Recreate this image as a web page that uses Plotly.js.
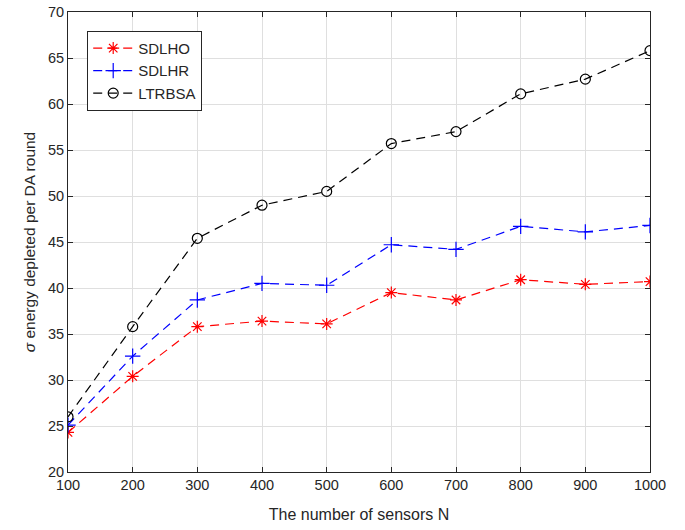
<!DOCTYPE html>
<html><head><meta charset="utf-8">
<script src="https://cdn.plot.ly/plotly-3.0.1.min.js"></script>
<style>body{margin:0;background:#fff}#c{width:685px;height:530px}</style>
</head><body><div id="c"></div>
<script>
const N = [100,200,300,400,500,600,700,800,900,1000];
const sdlho = [24.3,30.4,35.8,36.4,36.1,39.5,38.7,40.9,40.4,40.7];
const sdlhr = [25.1,32.6,38.7,40.5,40.3,44.7,44.2,46.7,46.1,46.8];
const ltrbsa = [26.0,35.8,45.4,49.0,50.5,55.7,57.0,61.1,62.7,65.8];
const xTicks = [100,200,300,400,500,600,700,800,900,1000];
const yTicks = [20,25,30,35,40,45,50,55,60,65,70];

const mk = (name, y, color, symbol, size) => ({
  x: N, y: y, name: name, type: 'scatter', mode: 'lines+markers',
  line: {color: color, width: 1.2, dash: '9px,6px'},
  marker: {symbol: symbol, size: size, color: color, line: {color: color, width: 1.2}}
});
const data = [
  mk('SDLHO', sdlho, '#ff0000', 'asterisk-open', 10),
  mk('SDLHR', sdlhr, '#0000ff', 'cross-thin-open', 11),
  mk('LTRBSA', ltrbsa, '#000000', 'circle-open', 10)
];
const ax = {
  showline: true, mirror: 'ticks', linecolor: '#262626', linewidth: 1,
  ticks: 'inside', ticklen: 5, tickcolor: '#262626',
  showgrid: true, gridcolor: '#dfdfdf', gridwidth: 1, zeroline: false,
  tickfont: {family: 'Liberation Sans, Arial', size: 14.5, color: '#262626'}
};
const layout = {
  width: 685, height: 530,
  margin: {l: 68, r: 35, t: 12, b: 58},
  paper_bgcolor: '#fff', plot_bgcolor: '#fff',
  font: {family: 'Liberation Sans, Arial', color: '#262626'},
  xaxis: Object.assign({}, ax, {range: [100,1000], tickvals: xTicks,
    title: {text: 'The number of sensors N', font: {size: 16, color: '#262626'}, standoff: 16}}),
  yaxis: Object.assign({}, ax, {range: [20,70], tickvals: yTicks,
    title: {text: '<i>σ</i> energy depleted per DA round', font: {size: 15.5, color: '#262626'}, standoff: 8}}),
  legend: {x: 0.033, y: 0.959, xanchor: 'left', yanchor: 'top',
    bgcolor: '#fff', bordercolor: '#262626', borderwidth: 1,
    font: {size: 15, color: '#262626'}, tracegroupgap: 0, itemwidth: 40},
  showlegend: true
};
Plotly.newPlot('c', data, layout, {displayModeBar: false, staticPlot: true});
</script></body></html>
